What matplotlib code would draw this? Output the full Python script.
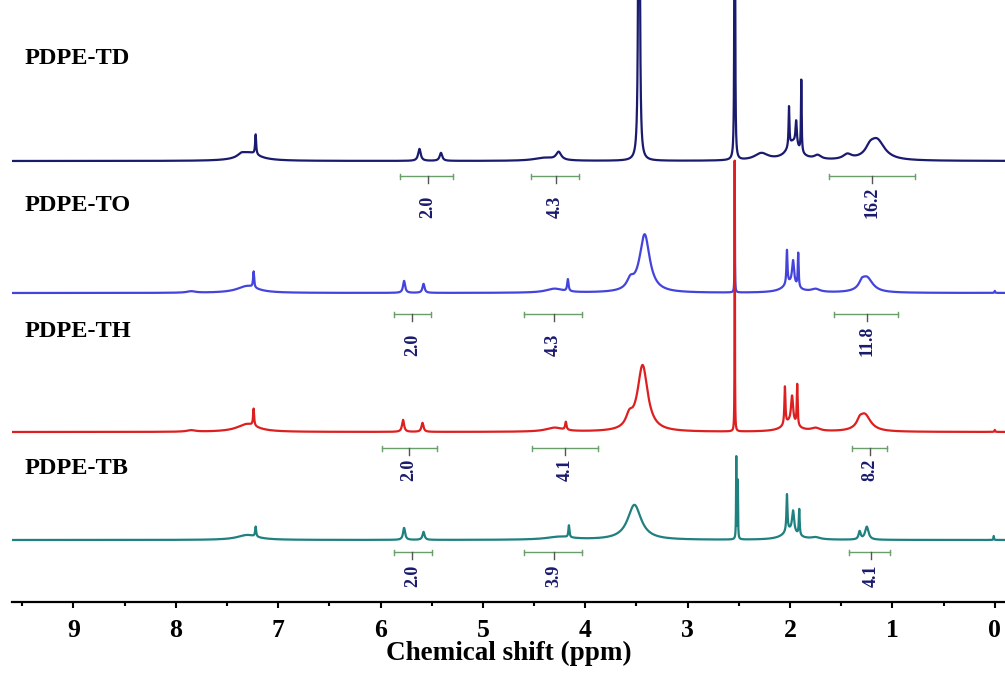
import matplotlib
matplotlib.use("Agg")
import matplotlib.pyplot as plt
import numpy as np
from matplotlib.ticker import MultipleLocator

# 1H NMR spectra of four polymers, stacked (peak tables)
# each peak: position (ppm), height (px above its baseline), half width (ppm)

names = ["PDPE-TD", "PDPE-TO", "PDPE-TH", "PDPE-TB"]
colors = ["#1a1a6e", "#4444dd", "#dd1f1f", "#1f8080"]
baselines = [441, 309, 170, 62]          # baseline height of each trace
name_y = [64, 211, 337, 474]             # baseline of the sample names (px from top)

td_ppm = [7.36, 7.28, 7.22, 5.62, 5.41, 4.40, 4.26, 3.475, 2.54, 2.28, 1.97, 2.01, 1.94, 1.89, 1.73, 1.44, 1.22, 1.15]
td_h = [3, 8, 20, 12, 8, 3, 8, 1100, 1600, 7, 18, 40, 24, 72, 4, 5, 7, 20]
td_w = [0.04, 0.12, 0.006, 0.015, 0.015, 0.12, 0.03, 0.0045, 0.0018, 0.08, 0.07, 0.005, 0.008, 0.004, 0.04, 0.05, 0.05, 0.09]

to_ppm = [7.30, 7.24, 7.85, 5.77, 5.58, 4.30, 4.17, 3.56, 3.42, 2.54, 2.03, 1.97, 1.92, 2.00, 1.75, 1.30, 1.25, 0.00]
to_h = [7, 16, 1.5, 12, 9, 4, 12, 9, 58, 132, 34, 24, 34, 9, 3, 5, 15, 2]
to_w = [0.12, 0.006, 0.05, 0.012, 0.012, 0.10, 0.008, 0.04, 0.06, 0.0018, 0.006, 0.012, 0.005, 0.08, 0.05, 0.03, 0.07, 0.004]

th_ppm = [7.30, 7.24, 7.85, 5.78, 5.59, 4.30, 4.19, 3.57, 3.44, 2.54, 2.05, 1.98, 1.93, 2.00, 1.75, 1.32, 1.27, 0.00]
th_h = [8, 17, 1.5, 12, 9, 4, 8, 11, 66, 271, 38, 27, 41, 9, 3, 5, 17, 2]
th_w = [0.12, 0.006, 0.05, 0.012, 0.012, 0.10, 0.008, 0.04, 0.06, 0.0018, 0.006, 0.012, 0.005, 0.08, 0.05, 0.03, 0.07, 0.004]

tb_ppm = [7.30, 7.22, 5.77, 5.58, 4.25, 4.16, 3.52, 2.525, 2.51, 2.03, 1.97, 1.91, 2.00, 1.75, 1.32, 1.25, 0.01]
tb_h = [5, 10, 12, 8, 3, 12, 35, 82, 58, 37, 21, 26, 9, 2, 8, 13, 4]
tb_w = [0.12, 0.006, 0.012, 0.012, 0.15, 0.006, 0.08, 0.0025, 0.0025, 0.006, 0.012, 0.005, 0.08, 0.05, 0.012, 0.02, 0.003]

peaks = [(td_ppm, td_h, td_w), (to_ppm, to_h, to_w), (th_ppm, th_h, th_w), (tb_ppm, tb_h, tb_w)]

# integrals: (left ppm, right ppm, centre ppm, value)
td_int = [(5.81, 5.29, 5.54, "2.0"), (4.53, 4.06, 4.29, "4.3"), (1.62, 0.78, 1.20, "16.2")]
to_int = [(5.87, 5.51, 5.69, "2.0"), (4.60, 4.03, 4.31, "4.3"), (1.57, 0.95, 1.25, "11.8")]
th_int = [(5.99, 5.45, 5.72, "2.0"), (4.52, 3.88, 4.20, "4.1"), (1.39, 1.05, 1.22, "8.2")]
tb_int = [(5.87, 5.50, 5.69, "2.0"), (4.60, 4.03, 4.31, "3.9"), (1.42, 1.02, 1.21, "4.1")]
integrals = [td_int, to_int, th_int, tb_int]
int_y = [426, 288, 154, 50]      # height of integral bars
int_label_y = [384, 246, 121, 15]

W, H = 1005, 673
fig = plt.figure(figsize=(W / 100, H / 100), dpi=100)
ax = fig.add_axes([12 / W, 71 / H, 993 / W, 602 / H])

x = np.linspace(9.6, -0.1, 40000)
order = [3, 1, 2, 0]   # draw TD last so it sits on top
for i in order:
    c, h, w = peaks[i]
    y = np.full_like(x, baselines[i], dtype=float)
    for ci, hi, wi in zip(c, h, w):
        y += hi * wi ** 2 / ((x - ci) ** 2 + wi ** 2)
    ax.plot(x, y, color=colors[i], lw=1.6, zorder=2 + order.index(i))

green = "#6a9e6a"
for i, ints in enumerate(integrals):
    yb = int_y[i]
    for left, right, mid, lab in ints:
        ax.plot([left, right], [yb, yb], color=green, lw=1.0, zorder=1)
        ax.plot([left, left], [yb - 2.5, yb + 2.5], color=green, lw=1.0, zorder=1)
        ax.plot([right, right], [yb - 2.5, yb + 2.5], color=green, lw=1.0, zorder=1)
        ax.plot([mid, mid], [yb, yb - 7], color="#555555", lw=1.0, zorder=1)
        ax.text(mid, int_label_y[i], lab, rotation=90, ha="center", va="bottom",
                fontsize=13, fontweight="bold", family="Liberation Serif", color="#1a1a6e")

for i, nm in enumerate(names):
    fig.text(25 / W, 1 - name_y[i] / H, nm, ha="left", va="baseline",
             fontsize=17.5, fontweight="bold", family="Liberation Serif")

ax.set_xlim(9.6, -0.1)
ax.set_ylim(0, 602)
for s in ["left", "right", "top"]:
    ax.spines[s].set_visible(False)
ax.spines["bottom"].set_linewidth(1.6)
ax.set_yticks([])
ax.xaxis.set_major_locator(MultipleLocator(1))
ax.xaxis.set_minor_locator(MultipleLocator(0.5))
ax.tick_params(axis="x", which="major", direction="out", length=4.5, width=1.5, pad=7.5)
ax.tick_params(axis="x", which="minor", direction="out", length=3, width=1.5)
for t in ax.get_xticklabels():
    t.set_fontsize(18.5)
    t.set_fontweight("bold")
    t.set_family("Liberation Serif")
ax.set_xlabel("Chemical shift (ppm)", fontsize=19.5, fontweight="bold", family="Liberation Serif")
ax.xaxis.set_label_coords(0.5, -39 / 602)
ax.patch.set_alpha(0)

fig.savefig("out.png", dpi=100)
